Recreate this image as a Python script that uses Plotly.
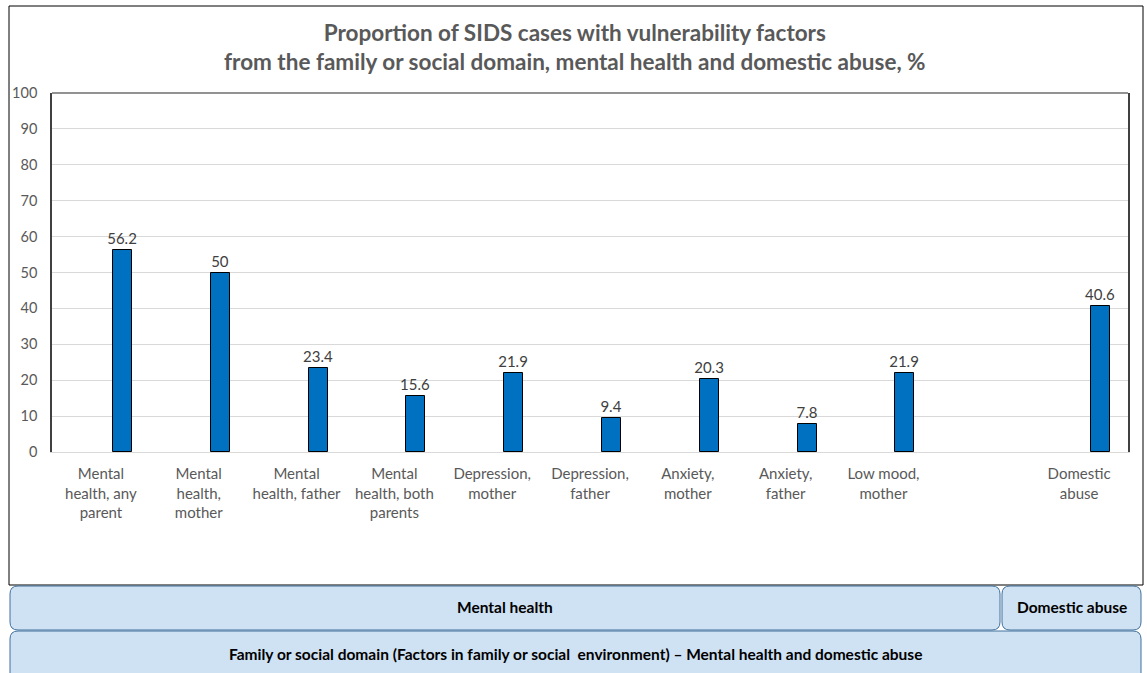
import plotly.graph_objects as go

categories = ["Mental<br>health, any<br>parent", "Mental<br>health,<br>mother", "Mental<br>health, father",
              "Mental<br>health, both<br>parents", "Depression,<br>mother", "Depression,<br>father",
              "Anxiety,<br>mother", "Anxiety,<br>father", "Low mood,<br>mother", "", "Domestic<br>abuse"]
values = [56.2, 50, 23.4, 15.6, 21.9, 9.4, 20.3, 7.8, 21.9, None, 40.6]
value_labels = ["56.2", "50", "23.4", "15.6", "21.9", "9.4", "20.3", "7.8", "21.9", "", "40.6"]
y_ticks = [0, 10, 20, 30, 40, 50, 60, 70, 80, 90, 100]
title_lines = ["Proportion of SIDS cases with vulnerability factors",
               "from the family or social domain, mental health and domestic abuse, %"]
group_labels = ["Mental health", "Domestic abuse",
                "Family or social domain (Factors in family or social  environment) \u2013 Mental health and domestic abuse"]

W, H = 1147, 673
L, R, T, B = 52, 1128, 93, 452
FONT = "Lato, Liberation Sans, Arial, sans-serif"

def px(x):
    return (x - L) / (R - L)

def py(y):
    return (B - y) / (B - T)

xs = list(range(len(categories)))

fig = go.Figure()
fig.add_trace(go.Bar(
    x=xs, y=values, offset=0.123, width=0.194,
    marker=dict(color="#0070C0", line=dict(color="#000000", width=1)),
    text=value_labels, textposition="outside", cliponaxis=False, constraintext="none",
    textfont=dict(family=FONT, size=15, color="#404040"),
    hoverinfo="skip",
))

def rrect(x0, y0, x1, y1, r):
    X0, X1 = px(x0), px(x1)
    Y0, Y1 = py(y0), py(y1)
    rx = r / (R - L)
    ry = r / (B - T)
    return (f"M {X0+rx},{Y0} L {X1-rx},{Y0} Q {X1},{Y0} {X1},{Y0-ry} "
            f"L {X1},{Y1+ry} Q {X1},{Y1} {X1-rx},{Y1} L {X0+rx},{Y1} "
            f"Q {X0},{Y1} {X0},{Y1+ry} L {X0},{Y0-ry} Q {X0},{Y0} {X0+rx},{Y0} Z")

shapes = [
    dict(type="rect", xref="paper", yref="paper", x0=px(9), x1=px(1143), y0=py(585), y1=py(6),
         line=dict(color="#000000", width=1), fillcolor="rgba(0,0,0,0)", layer="below"),
    dict(type="line", xref="paper", yref="paper", x0=0, x1=1, y0=1, y1=1,
         line=dict(color="#6E6E6E", width=1.5)),
]
boxes = [(10, 586, 1000, 630), (1002, 586, 1141, 630), (10, 631, 1141, 690)]
for b in boxes:
    shapes.append(dict(type="path", xref="paper", yref="paper", path=rrect(*b, 8),
                       fillcolor="#CFE2F3", line=dict(color="#41719C", width=1)))

annotations = []
for (x0, y0, x1, y1), lab, yc in zip(boxes, group_labels, [607, 607, 654]):
    annotations.append(dict(xref="paper", yref="paper", x=px((x0 + x1) / 2), y=py(yc),
                            text=f"<b>{lab}</b>", showarrow=False,
                            font=dict(family=FONT, size=15.5, color="#000000"),
                            xanchor="center", yanchor="middle"))
annotations.append(dict(xref="paper", yref="paper", x=px(575), y=py(47),
                        text="<b>" + "<br>".join(title_lines) + "</b>", showarrow=False,
                        font=dict(family=FONT, size=22.5, color="#595959"),
                        xanchor="center", yanchor="middle"))

fig.update_layout(
    width=W, height=H,
    margin=dict(l=L, r=W - R, t=T, b=H - B),
    paper_bgcolor="white", plot_bgcolor="white",
    showlegend=False,
    shapes=shapes, annotations=annotations,
    xaxis=dict(tickmode="array", tickvals=xs, ticktext=categories, range=[-0.5, len(categories) - 0.5],
               showgrid=False, showline=True, linecolor="#D9D9D9", linewidth=1, ticks="",
               tickfont=dict(family=FONT, size=15, color="#595959"), zeroline=False,
               ticklabelstandoff=8),
    yaxis=dict(range=[0, 100], tickmode="array", tickvals=y_ticks, showgrid=True, gridcolor="#D9D9D9",
               gridwidth=1, showline=True, linecolor="#404040", linewidth=1.5, mirror=True, ticks="",
               tickfont=dict(family=FONT, size=14.5, color="#595959"), zeroline=False, ticklabelstandoff=10),
    bargap=0,
)

fig.write_html("out.html")
